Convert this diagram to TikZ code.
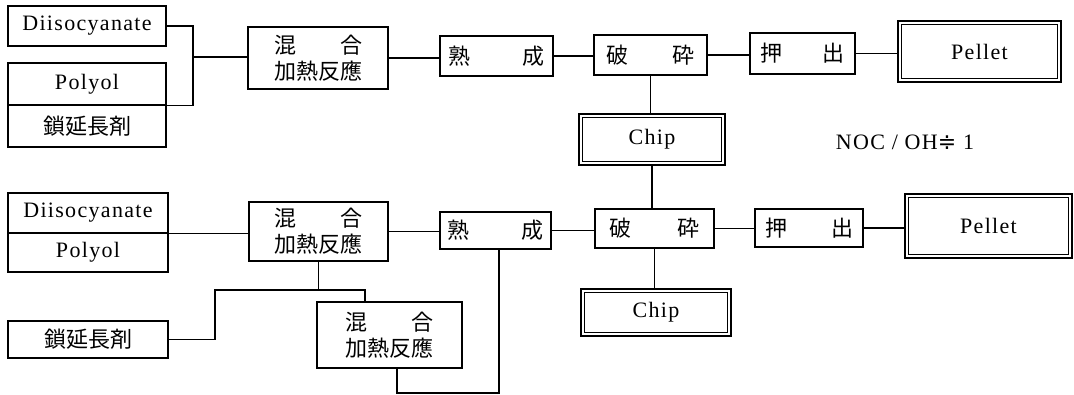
\documentclass[tikz,border=0pt]{standalone}
\usepackage{fontspec}
\newfontfamily\latinf[LetterSpace=6]{Liberation Serif}
\newfontfamily\cjkf{Noto Sans CJK JP}
\newfontfamily\symf{DejaVu Sans}
\newcommand\spreadtxt[3]{\makebox[#1][s]{#2\hfill#3}}
\tikzset{
  base/.style={draw, line width=1.3pt, inner sep=0pt, rectangle},
  sz/.style 2 args={minimum width=#1pt, minimum height=#2pt},
  lbox/.style={base, font=\latinf\fontsize{22}{25}\selectfont},
  cbox/.style={base, font=\cjkf\fontsize{22}{26}\selectfont, align=center},
  dbox/.style={lbox, line width=1.1pt},
  inner/.style={line width=1.1pt},
  conn/.style={line width=1.3pt},
}
\newcommand\innerbox[1]{\draw[inner] ([shift={(4pt,-4pt)}]#1.north west) rectangle ([shift={(-4pt,4pt)}]#1.south east);}
\begin{document}
\begin{tikzpicture}[x=1pt, y=-1pt]
\fill[white] (0,0) rectangle (1074,394);
\useasboundingbox (0,0) rectangle (1074,394);
% top row
\node[lbox, sz={158}{40}] (dA) at (87,26) {Diisocyanate};
\node[lbox, sz={158}{42}] (pol1) at (87,84) {Polyol};
\node[cbox, sz={158}{42}] (ext1) at (87,126) {鎖延長剤};
\node[cbox, sz={140}{62}] (mix1) at (318,58) {\spreadtxt{88pt}{混}{合}\\加熱反應};
\node[cbox, sz={113}{40}] (jk1) at (496.5,56) {\spreadtxt{96pt}{熟}{成}};
\node[cbox, sz={113}{40}] (hs1) at (650.5,55) {\spreadtxt{88pt}{破}{砕}};
\node[cbox, sz={105}{41}] (os1) at (802.5,53.5) {\spreadtxt{85pt}{押}{出}};
\node[dbox, sz={163}{61}] (pe1) at (979.5,51.5) {Pellet};
\node[dbox, sz={146}{51}] (ch1) at (652,139.5) {Chip};
\node[font=\latinf\fontsize{22}{25}\selectfont, inner sep=0pt] (ratio) at (905,142) {NOC / OH{\symf ≑} 1};
% bottom row
\node[lbox, sz={160}{40}] (dI2) at (88,213) {Diisocyanate};
\node[lbox, sz={160}{39}] (pol2) at (88,252.5) {Polyol};
\node[cbox, sz={139}{59}] (mix2) at (318.5,231.5) {\spreadtxt{88pt}{混}{合}\\加熱反應};
\node[cbox, sz={111}{37}] (jk2) at (495.5,230.5) {\spreadtxt{96pt}{熟}{成}};
\node[cbox, sz={119}{39}] (hs2) at (654.5,228.5) {\spreadtxt{90pt}{破}{砕}};
\node[cbox, sz={108}{38}] (os2) at (809,228) {\spreadtxt{88pt}{押}{出}};
\node[dbox, sz={167}{64}] (pe2) at (988.5,226) {Pellet};
\node[dbox, sz={150}{47}] (ch2) at (656,312.5) {Chip};
\node[cbox, sz={160}{37}] (ext2) at (88,339.5) {鎖延長剤};
\node[cbox, sz={145}{66}] (mix3) at (389.5,335) {\spreadtxt{88pt}{混}{合}\\加熱反應};
\innerbox{pe1}
\innerbox{ch1}
\innerbox{pe2}
\innerbox{ch2}
% top connectors
\coordinate (c1) at (193,57);
\draw[conn] (dA.east) -| (c1) |- (pol1.south east);
\draw[conn] (c1) -- (c1 -| mix1.west);
\draw[conn] (mix1.east) -- (mix1.east -| jk1.west);
\draw[conn] (jk1.east) -- (jk1.east -| hs1.west);
\draw[conn] (hs1.east) -- (hs1.east -| os1.west);
\draw[conn] (os1.east) -- (os1.east -| pe1.west);
\draw[conn] (hs1.south) -- (hs1.south |- ch1.north);
\draw[conn] (ch1.south) -- (ch1.south |- hs2.north);
% bottom connectors
\draw[conn] (dI2.south east) -- (dI2.south east -| mix2.west);
\draw[conn] (mix2.east) -- (mix2.east -| jk2.west);
\draw[conn] (jk2.east) -- (jk2.east -| hs2.west);
\draw[conn] (hs2.east) -- (hs2.east -| os2.west);
\draw[conn] (os2.east) -- (os2.east -| pe2.west);
\draw[conn] (hs2.south) -- (hs2.south |- ch2.north);
\coordinate (j1) at (318.5,290);
\coordinate (jL) at (215,290);
\coordinate (jR) at (365,290);
\draw[conn] (mix2.south) -- (j1);
\draw[conn] (ext2.east) -| (jL) -- (jR) -- (jR |- mix3.north);
\coordinate (jB) at (397,393);
\coordinate (jB2) at (499,393);
\draw[conn] (mix3.south -| jB) -- (jB) -- (jB2) -- (jB2 |- jk2.south);
\end{tikzpicture}
\end{document}
